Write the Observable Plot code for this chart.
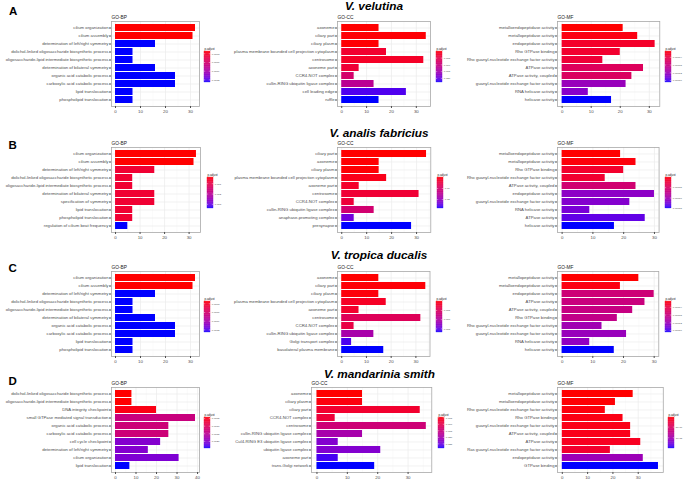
<!DOCTYPE html>
<html><head><meta charset="utf-8">
<script src="https://cdn.jsdelivr.net/npm/d3@7"></script>
<script src="https://cdn.jsdelivr.net/npm/@observablehq/plot@0.6"></script>
<style>
body{margin:0;background:#fff;}
#fig{position:relative;width:685px;height:479px;overflow:hidden;background:#fff;}
#fig svg{position:absolute;}
</style></head><body><div id="fig"></div>
<script>
// ---------------- DATA ----------------
const aBpTerms = ["cilium organization","cilium assembly","determination of left/right symmetry","dolichol-linked oligosaccharide biosynthetic process","oligosaccharide-lipid intermediate biosynthetic process","determination of bilateral symmetry","organic acid catabolic process","carboxylic acid catabolic process","lipid translocation","phospholipid translocation"];
const aBpCount = [32,31,16,7,7,16,24,24,7,7];
const aBpPadj = [0.00022,0.00022,0.00129,0.00129,0.00129,0.00129,0.00129,0.00129,0.00129,0.00129];
const aBpBreaks = ["0.0003","0.0006","0.0009","0.0012"];

const aCcTerms = ["axoneme","ciliary part","ciliary plasm","plasma membrane bounded cell projection cytoplasm","centrosome","axoneme part","CCR4-NOT complex","cullin-RING ubiquitin ligase complex","cell leading edge","ruffle"];
const aCcCount = [15,34,15,18,33,7,5,13,26,15];
const aCcPadj = [0.0001,0.0003,0.0002,0.0028,0.0022,0.0035,0.0085,0.0125,0.0215,0.023];
const aCcBreaks = ["0.005","0.010","0.015","0.020"];

const aMfTerms = ["metalloendopeptidase activity","metallopeptidase activity","endopeptidase activity","Rho GTPase binding","Rho guanyl-nucleotide exchange factor activity","ATPase activity","ATPase activity, coupled","guanyl-nucleotide exchange factor activity","RNA helicase activity","helicase activity"];
const aMfCount = [21,26,32,20,14,28,24,22,9,17];
const aMfPadj = [0.00001,0.000015,0.000026,0.000029,0.000034,0.000058,0.000061,0.000125,0.000135,0.00017];
const aMfBreaks = ["0.00004","0.00008","0.00012","0.00016"];

const bBpTerms = ["cilium organization","cilium assembly","determination of left/right symmetry","dolichol-linked oligosaccharide biosynthetic process","oligosaccharide-lipid intermediate biosynthetic process","determination of bilateral symmetry","specification of symmetry","lipid translocation","phospholipid translocation","regulation of cilium beat frequency"];
const bBpCount = [33,32,16,7,7,16,16,7,7,5];
const bBpPadj = [0.0004,0.0004,0.0008,0.0008,0.0008,0.0008,0.0008,0.0008,0.0008,0.0034];
const bBpBreaks = ["0.001","0.002","0.003"];

const bCcTerms = ["ciliary part","axoneme","ciliary plasm","plasma membrane bounded cell projection cytoplasm","axoneme part","centrosome","CCR4-NOT complex","cullin-RING ubiquitin ligase complex","anaphase-promoting complex","presynapse"];
const bCcCount = [34,15,15,18,7,31,5,13,5,28];
const bCcPadj = [0.0001,0.0002,0.0003,0.0015,0.003,0.004,0.0045,0.011,0.024,0.028];
const bCcBreaks = ["0.01","0.02"];

const bMfTerms = ["metalloendopeptidase activity","metallopeptidase activity","Rho GTPase binding","Rho guanyl-nucleotide exchange factor activity","ATPase activity, coupled","endopeptidase activity","guanyl-nucleotide exchange factor activity","RNA helicase activity","ATPase activity","helicase activity"];
const bMfCount = [19,24,20,14,24,30,22,9,27,17];
const bMfPadj = [0.0000015,0.000004,0.000018,0.00002,0.00006,0.000115,0.00012,0.000125,0.000135,0.00015];
const bMfBreaks = ["0.00005","0.00010","0.00015"];

const cBpTerms = ["cilium organization","cilium assembly","determination of left/right symmetry","dolichol-linked oligosaccharide biosynthetic process","oligosaccharide-lipid intermediate biosynthetic process","determination of bilateral symmetry","organic acid catabolic process","carboxylic acid catabolic process","lipid translocation","phospholipid translocation"];
const cBpCount = [32,31,16,7,7,16,24,24,7,7];
const cBpPadj = [0.00022,0.00022,0.00129,0.00129,0.00129,0.00129,0.00129,0.00129,0.00129,0.00129];
const cBpBreaks = ["0.0003","0.0006","0.0009","0.0012"];

const cCcTerms = ["axoneme","ciliary part","ciliary plasm","plasma membrane bounded cell projection cytoplasm","axoneme part","centrosome","CCR4-NOT complex","cullin-RING ubiquitin ligase complex","Golgi transport complex","basolateral plasma membrane"];
const cCcCount = [15,34,15,18,7,32,5,13,4,17];
const cCcPadj = [0.0001,0.0003,0.0004,0.0015,0.002,0.005,0.0035,0.011,0.016,0.017];
const cCcBreaks = ["0.005","0.010","0.015"];

const cMfTerms = ["metallopeptidase activity","metalloendopeptidase activity","endopeptidase activity","ATPase activity","ATPase activity, coupled","Rho GTPase binding","Rho guanyl-nucleotide exchange factor activity","guanyl-nucleotide exchange factor activity","RNA helicase activity","helicase activity"];
const cMfCount = [25,19,30,27,23,18,13,21,9,17];
const cMfPadj = [0.00001,0.000015,0.000077,0.000082,0.000085,0.00009,0.000119,0.000125,0.00013,0.00017];
const cMfBreaks = ["0.00004","0.00008","0.00012","0.00016"];

const dBpTerms = ["dolichol-linked oligosaccharide biosynthetic process","oligosaccharide-lipid intermediate biosynthetic process","DNA integrity checkpoint","small GTPase mediated signal transduction","organic acid catabolic process","carboxylic acid catabolic process","cell cycle checkpoint","determination of left/right symmetry","cilium organization","lipid translocation"];
const dBpCount = [8,8,20,39,26,26,22,16,31,7];
const dBpPadj = [0.00043,0.00043,0.0005,0.00135,0.0013,0.0013,0.00206,0.00206,0.0021,0.00247];
const dBpBreaks = ["0.0005","0.0010","0.0015","0.0020"];

const dCcTerms = ["axoneme","ciliary plasm","ciliary part","CCR4-NOT complex","centrosome","cullin-RING ubiquitin ligase complex","Cul4-RING E3 ubiquitin ligase complex","ubiquitin ligase complex","axoneme part","trans-Golgi network"];
const dCcCount = [15,15,34,6,36,15,7,21,7,19];
const dCcPadj = [0.0048,0.0053,0.0076,0.0084,0.0148,0.0202,0.0238,0.0238,0.0273,0.0285];
const dCcBreaks = ["0.005","0.010","0.015","0.020","0.025"];

const dMfTerms = ["metallopeptidase activity","metalloendopeptidase activity","Rho guanyl-nucleotide exchange factor activity","Rho GTPase binding","guanyl-nucleotide exchange factor activity","ATPase activity, coupled","ATPase activity","Ras guanyl-nucleotide exchange factor activity","endopeptidase activity","GTPase binding"];
const dMfCount = [28,21,17,24,27,27,31,19,32,38];
const dMfPadj = [5e-7,6e-7,8e-7,1e-6,1.1e-6,1.2e-6,1.5e-6,2.2e-6,1.07e-5,1.5e-5];
const dMfBreaks = ["5e-06","1e-05"];

const panelLetters = ["A","B","C","D"];
const speciesNames = ["V. velutina","V. analis fabricius","V. tropica ducalis","V. mandarinia smith"];
const ontologyTitles = ["GO-BP","GO-CC","GO-MF"];

// ---------------- LAYOUT ----------------
const FONT = "'Liberation Sans', Arial, Helvetica, sans-serif";
const rowTop = [21, 147, 271, 387];
const PANEL_H = 85;
const panels = [
  {row:0,col:0,terms:aBpTerms,counts:aBpCount,padj:aBpPadj,breaks:aBpBreaks,left:111,right:199,legX:204},
  {row:0,col:1,terms:aCcTerms,counts:aCcCount,padj:aCcPadj,breaks:aCcBreaks,left:336.5,right:429.5,legX:436},
  {row:0,col:2,terms:aMfTerms,counts:aMfCount,padj:aMfPadj,breaks:aMfBreaks,left:556.7,right:659,legX:665},
  {row:1,col:0,terms:bBpTerms,counts:bBpCount,padj:bBpPadj,breaks:bBpBreaks,left:111,right:200,legX:206.7},
  {row:1,col:1,terms:bCcTerms,counts:bCcCount,padj:bCcPadj,breaks:bCcBreaks,left:337,right:430.3,legX:437},
  {row:1,col:2,terms:bMfTerms,counts:bMfCount,padj:bMfPadj,breaks:bMfBreaks,left:556.7,right:658.3,legX:665},
  {row:2,col:0,terms:cBpTerms,counts:cBpCount,padj:cBpPadj,breaks:cBpBreaks,left:111,right:199,legX:204.3},
  {row:2,col:1,terms:cCcTerms,counts:cCcCount,padj:cCcPadj,breaks:cCcBreaks,left:337,right:429.5,legX:435.5},
  {row:2,col:2,terms:cMfTerms,counts:cMfCount,padj:cMfPadj,breaks:cMfBreaks,left:556.7,right:658,legX:664.5},
  {row:3,col:0,terms:dBpTerms,counts:dBpCount,padj:dBpPadj,breaks:dBpBreaks,left:111,right:199,legX:204},
  {row:3,col:1,terms:dCcTerms,counts:dCcCount,padj:dCcPadj,breaks:dCcBreaks,left:311,right:431.3,legX:437.7},
  {row:3,col:2,terms:dMfTerms,counts:dMfCount,padj:dMfPadj,breaks:dMfBreaks,left:556.7,right:662.5,legX:668.3}
];
const letterPos = [{x:9,y:15},{x:8.5,y:149.3},{x:8.5,y:272},{x:8.5,y:385}];
const speciesPos = [{x:374,y:10},{x:379,y:136.7},{x:379,y:259.4},{x:379.5,y:378.4}];

const fig = document.getElementById("fig");

function colorScale(padj) {
  return {type:"linear", domain:d3.extent(padj), range:["red","blue"], interpolate:"lab", label: null};
}

function drawPanel(p) {
  const ML = 150, MR = 1, MT = 10, MB = 10;
  const top = rowTop[p.row];
  const max = d3.max(p.counts);
  const upper = max * 1.05;
  const major = d3.range(0, upper, 10);
  const minor = d3.range(5, upper, 10);
  const rows = p.terms.map((term, i) => ({term, count: p.counts[i], padj: p.padj[i]}));
  const svg = Plot.plot({
    width: p.right - p.left + ML + MR,
    height: PANEL_H + MT + MB,
    marginLeft: ML, marginRight: MR, marginTop: MT, marginBottom: MB,
    style: {background: "none", fontFamily: FONT, overflow: "visible"},
    x: {domain: [-0.05 * max, upper], label: null},
    y: {type: "band", domain: p.terms, paddingInner: 0.1, paddingOuter: 0.15, label: null},
    color: colorScale(p.padj),
    marks: [
      Plot.gridX(minor, {stroke: "#f3f3f3", strokeOpacity: 1, strokeWidth: 0.4}),
      Plot.gridX(major, {stroke: "#ebebeb", strokeOpacity: 1, strokeWidth: 0.7}),
      Plot.gridY(p.terms, {stroke: "#ebebeb", strokeOpacity: 1, strokeWidth: 0.7}),
      Plot.barX(rows, {x: "count", y: "term", fill: "padj"}),
      Plot.frame({stroke: "#a8a8a8", strokeWidth: 0.8}),
      Plot.axisY({tickSize: 2, tickPadding: 1, fontSize: 4.25, color: "#4d4d4d", label: null}),
      Plot.axisX(major, {tickSize: 2, tickPadding: 1, fontSize: 4.4, color: "#4d4d4d", label: null, tickFormat: d => String(d)}),
      Plot.text([ontologyTitles[p.col]], {frameAnchor: "top-left", textAnchor: "start", lineAnchor: "bottom", dy: -2.5, fontSize: 4.8, fill: "#1a1a1a", text: d => d})
    ]
  });
  svg.style.left = (p.left - ML) + "px";
  svg.style.top = (top - MT) + "px";
  fig.appendChild(svg);
}

function drawLegend(p) {
  const BW = 6, BH = 31, MT = 6, MB = 2, MR = 18;
  const top = rowTop[p.row] + 30;
  const [lo, hi] = d3.extent(p.padj);
  const n = 48;
  const stops = d3.range(n).map(i => ({a: lo + (hi - lo) * i / n, b: lo + (hi - lo) * (i + 1) / n}));
  const br = p.breaks.map(s => ({s, v: +s}));
  const svg = Plot.plot({
    width: BW + MR, height: BH + MT + MB,
    marginLeft: 0, marginRight: MR, marginTop: MT, marginBottom: MB,
    style: {background: "none", fontFamily: FONT, overflow: "visible"},
    x: {domain: [0, 1], axis: null, label: null},
    y: {domain: [lo, hi], reverse: true, axis: null, label: null},
    color: colorScale(p.padj),
    marks: [
      Plot.rect(stops, {x1: 0, x2: 1, y1: "a", y2: "b", fill: d => (d.a + d.b) / 2, stroke: d => (d.a + d.b) / 2, strokeWidth: 0.3}),
      Plot.ruleY(br, {y: "v", x1: 0, x2: 0.2, stroke: "white", strokeWidth: 0.4}),
      Plot.ruleY(br, {y: "v", x1: 0.8, x2: 1, stroke: "white", strokeWidth: 0.4}),
      Plot.text(br, {x: 1, y: "v", text: "s", dx: 1.3, textAnchor: "start", fontSize: 2.5, fill: "#4d4d4d"}),
      Plot.text(["p.adjust"], {frameAnchor: "top-left", textAnchor: "start", lineAnchor: "bottom", dy: -1.5, fontSize: 2.9, fill: "#1a1a1a", text: d => d})
    ]
  });
  svg.style.left = p.legX + "px";
  svg.style.top = (top - MT) + "px";
  fig.appendChild(svg);
}

panels.forEach(p => { drawPanel(p); drawLegend(p); });

// overlay titles
const ov = d3.select(fig).append("svg").attr("width", 685).attr("height", 479)
  .style("left", "0px").style("top", "0px").style("pointer-events", "none");
ov.selectAll("text.letter").data(panelLetters).join("text")
  .attr("x", (d, i) => letterPos[i].x).attr("y", (d, i) => letterPos[i].y)
  .attr("font-family", FONT).attr("font-weight", "bold").attr("font-size", 11.5).attr("fill", "#000")
  .text(d => d);
ov.selectAll("text.sp").data(speciesNames).join("text")
  .attr("x", (d, i) => speciesPos[i].x).attr("y", (d, i) => speciesPos[i].y)
  .attr("text-anchor", "middle")
  .attr("font-family", FONT).attr("font-weight", "bold").attr("font-style", "italic").attr("font-size", 11.8).attr("fill", "#000")
  .text(d => d);
</script></body></html>
